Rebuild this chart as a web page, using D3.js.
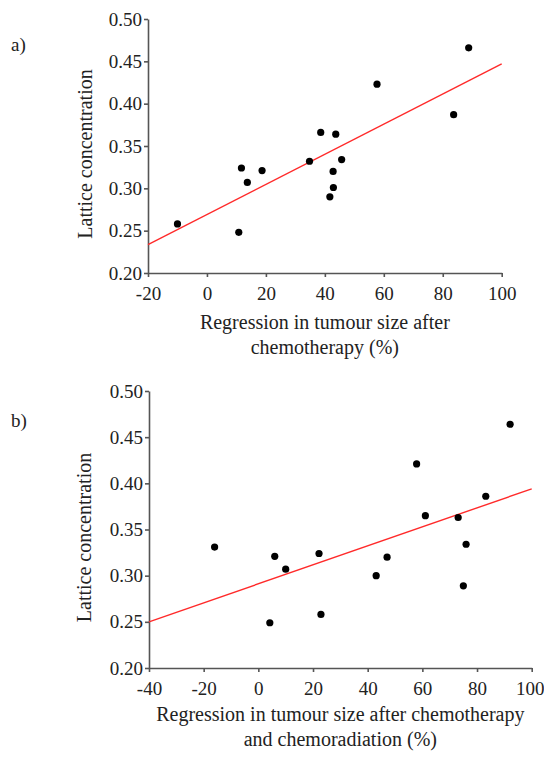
<!DOCTYPE html>
<html>
<head>
<meta charset="utf-8">
<script src="https://cdn.jsdelivr.net/npm/d3@7"></script>
<style>
  body { margin: 0; background: #fff; }
  svg text { font-family: "Liberation Serif", "Times New Roman", serif; fill: #222; }
  .axis path, .axis line { stroke: #555; stroke-width: 1.6; }
  .axis text { font-size: 19px; }
</style>
</head>
<body>
<svg id="chart" width="544" height="758"></svg>
<script>
// panel a: chemotherapy only
var chemoX = [-10, 11.7, 13.7, 18.7, 10.8, 34.8, 45.7, 42.8, 42.9, 41.7, 38.6, 43.7, 57.7, 83.7, 88.8];
var chemoY = [0.258, 0.324, 0.307, 0.321, 0.248, 0.332, 0.334, 0.320, 0.301, 0.290, 0.366, 0.364, 0.423, 0.387, 0.466];
var chemoFitX = [-20, 100];
var chemoFitY = [0.2335, 0.447];
var chemoTicksX = [-20, 0, 20, 40, 60, 80, 100];

// panel b: chemotherapy and chemoradiation
var crtX = [-16, 6, 10, 4.2, 22.2, 47.1, 57.9, 61.1, 73.1, 83.2, 92.1, 76, 22.9, 43.1, 75];
var crtY = [0.331, 0.321, 0.307, 0.249, 0.324, 0.320, 0.421, 0.365, 0.363, 0.386, 0.464, 0.334, 0.258, 0.300, 0.289];
var crtFitX = [-40, 100];
var crtFitY = [0.25, 0.394];
var crtTicksX = [-40, -20, 0, 20, 40, 60, 80, 100];

var ticksY = [0.20, 0.25, 0.30, 0.35, 0.40, 0.45, 0.50];

var svg = d3.select("#chart");

function drawPanel(p) {
  var x = d3.scaleLinear().domain(d3.extent(p.ticksX)).range([p.left, p.right]);
  var y = d3.scaleLinear().domain([0.20, 0.50]).range([p.bottom, p.top]);

  var g = svg.append("g");

  var xAxis = g.append("g").attr("class", "axis")
    .attr("transform", "translate(0," + p.bottom + ")")
    .call(d3.axisBottom(x).tickValues(p.ticksX).tickSize(4).tickSizeOuter(0).tickPadding(10)
      .tickFormat(function(d){ return String(d); })); // plain hyphen like the original
  // keep the last label inside the page
  xAxis.selectAll(".tick text").filter(function(d){ return d === 100; })
    .attr("dx", p.lastShift);

  g.append("g").attr("class", "axis")
    .attr("transform", "translate(" + p.left + ",0)")
    .call(d3.axisLeft(y).tickValues(ticksY).tickSize(4).tickSizeOuter(0).tickPadding(2)
      .tickFormat(d3.format(".2f")));

  // regression line
  var line = d3.line().x(function(d){ return x(d[0]); }).y(function(d){ return y(d[1]); });
  g.append("path")
    .datum(d3.zip(p.fitX, p.fitY))
    .attr("d", line)
    .attr("fill", "none")
    .attr("stroke", "#ff2a2a")
    .attr("stroke-width", 1.4);

  // points
  g.selectAll("circle")
    .data(d3.zip(p.xs, p.ys))
    .enter().append("circle")
    .attr("cx", function(d){ return x(d[0]); })
    .attr("cy", function(d){ return y(d[1]); })
    .attr("r", 3.6)
    .attr("fill", "#000");

  // panel letter
  g.append("text").attr("x", 11).attr("y", p.letterY)
    .style("font-size", "19px").text(p.letter);

  // y title
  var cy = (p.top + p.bottom) / 2 + 8;
  g.append("text")
    .attr("transform", "translate(" + p.yTitleX + "," + cy + ") rotate(-90)")
    .attr("text-anchor", "middle")
    .style("font-size", "20px")
    .text("Lattice concentration");

  // x title, two lines
  var cx = (p.left + p.right) / 2;
  p.xTitle.forEach(function(s, i) {
    g.append("text")
      .attr("x", cx).attr("y", p.xTitleY + i * 25)
      .attr("text-anchor", "middle")
      .style("font-size", "20px")
      .text(s);
  });
}

drawPanel({
  xs: chemoX, ys: chemoY, fitX: chemoFitX, fitY: chemoFitY, ticksX: chemoTicksX,
  left: 148, right: 501.7, top: 19, bottom: 273, lastShift: 0,
  letter: "a)", letterY: 51, yTitleX: 92,
  xTitle: ["Regression in tumour size after", "chemotherapy (%)"], xTitleY: 329
});

drawPanel({
  xs: crtX, ys: crtY, fitX: crtFitX, fitY: crtFitY, ticksX: crtTicksX,
  left: 149, right: 531.7, top: 391, bottom: 668, lastShift: -2,
  letter: "b)", letterY: 427, yTitleX: 91,
  xTitle: ["Regression in tumour size after chemotherapy", "and chemoradiation (%)"], xTitleY: 721
});
</script>
</body>
</html>
